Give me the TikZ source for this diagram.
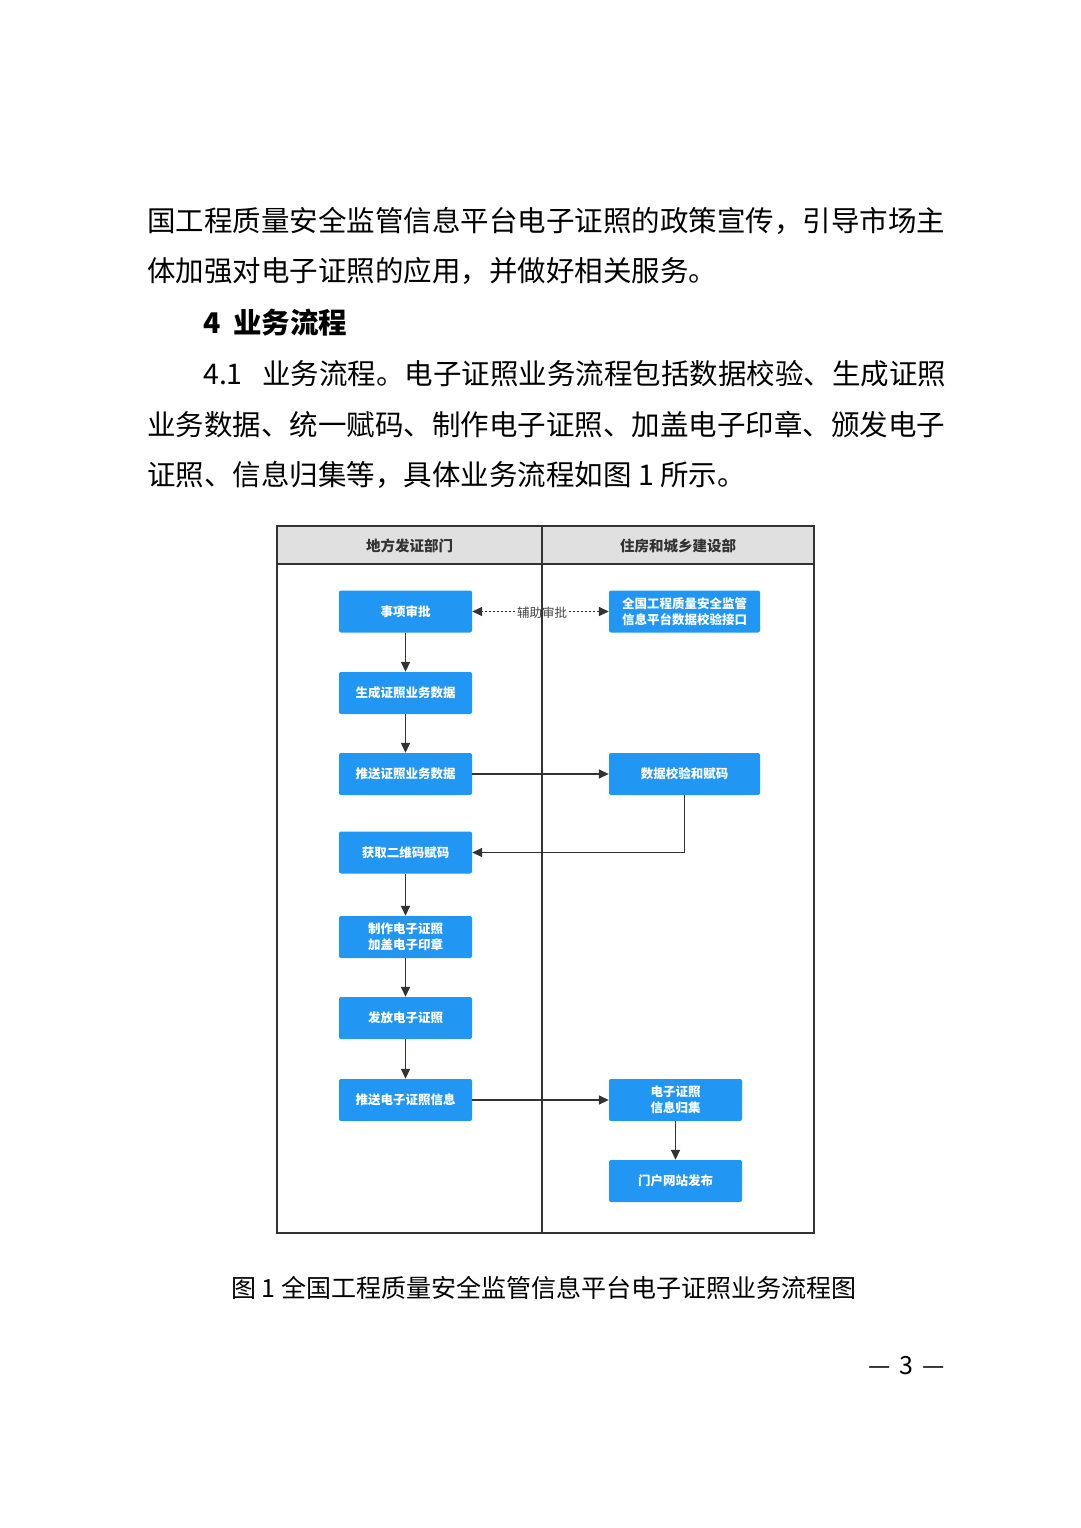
\documentclass[tikz,border=0pt]{standalone}
\usepackage{fontspec}
\setmainfont{Noto Sans CJK SC}
\usetikzlibrary{arrows.meta}
\definecolor{boxblue}{HTML}{2196F3}
\definecolor{linegray}{HTML}{333333}
\definecolor{headgray}{HTML}{E0E0E0}
\definecolor{labelgray}{HTML}{444444}
\begin{document}
\begin{tikzpicture}[x=1pt,y=-1pt,
  body/.style={anchor=base west, inner sep=0pt, font=\fontsize{28.5}{30}\selectfont, text=black},
  headtext/.style={inner sep=0pt, font=\fontsize{14.5}{16}\selectfont\bfseries, text=linegray},
  flow/.style={fill=boxblue, rounded corners=2pt, text=white, font=\fontsize{12.5}{15.5}\selectfont\bfseries, align=center, inner sep=0pt, minimum width=133pt, minimum height=42pt},
  widebox/.style={flow, minimum width=151pt},
  arr/.style={draw=linegray, line width=1.6pt, -{Triangle[length=10pt,width=9pt]}},
  dasharr/.style={draw=linegray, line width=1.5pt, dash pattern=on 2.5pt off 1.5pt, -{Triangle[length=10pt,width=9pt]}},
  lbl/.style={inner sep=1.5pt, font=\fontsize{12.5}{14}\selectfont, text=labelgray},
  frame/.style={draw=linegray, line width=1.8pt}
]
\useasboundingbox (0,0) rectangle (1080,1528);
\fill[white] (0,0) rectangle (1080,1528);

% body text
\node[body] (t1) at (147,231) {国工程质量安全监管信息平台电子证照的政策宣传，引导市场主};
\node[body] (t2) at (147,281) {体加强对电子证照的应用，并做好相关服务。};
\node[body, font=\fontsize{28.5}{30}\selectfont\bfseries] (t3) at (203,333) {\makebox[30pt][l]{4}业务流程};
\node[body] (t4) at (203,384) {\makebox[59pt][l]{4.1}业务流程。电子证照业务流程包括数据校验、生成证照};
\node[body] (t5) at (147,435) {业务数据、统一赋码、制作电子证照、加盖电子印章、颁发电子};
\node[body] (t6) at (147,485) {证照、信息归集等，具体业务流程如图 1 所示。};

% swimlane frame
\fill[headgray] (277,526) rectangle (814,564);
\draw[frame] (277,526) rectangle (814,1233);
\draw[frame] (277,564) -- (814,564);
\draw[frame] (542,526) -- (542,1233);
\node[headtext] (h1) at (409.5,546) {地方发证部门};
\node[headtext] (h2) at (678,546) {住房和城乡建设部};

% boxes
\node[flow] (a) at (405.5,611.5) {事项审批};
\node[widebox] (b) at (684.5,611.5) {全国工程质量安全监管\\信息平台数据校验接口};
\node[flow] (c) at (405.5,693) {生成证照业务数据};
\node[flow] (d) at (405.5,774) {推送证照业务数据};
\node[widebox] (e) at (684.5,774) {数据校验和赋码};
\node[flow] (f) at (405.5,852.5) {获取二维码赋码};
\node[flow] (g) at (405.5,937) {制作电子证照\\加盖电子印章};
\node[flow] (h) at (405.5,1018) {发放电子证照};
\node[flow] (i) at (405.5,1100) {推送电子证照信息};
\node[flow] (j) at (675.5,1100) {电子证照\\信息归集};
\node[flow] (k) at (675.5,1181) {门户网站发布};

% dashed auxiliary link
\node[lbl] (l) at (542,612.5) {辅助审批};
\draw[dasharr] (a.east -| l.west) -- (a.east);
\draw[dasharr] (b.west -| l.east) -- (b.west);

% connectors
\draw[arr] (a) -- (c);
\draw[arr] (c) -- (d);
\draw[arr] (d) -- (e);
\draw[arr] (e.south) |- (f.east);
\draw[arr] (f) -- (g);
\draw[arr] (g) -- (h);
\draw[arr] (h) -- (i);
\draw[arr] (i) -- (j);
\draw[arr] (j) -- (k);

% caption and page number
\node[body, font=\fontsize{25}{27}\selectfont] (cap) at (231,1297.5) {图 1 全国工程质量安全监管信息平台电子证照业务流程图};
\node[body, anchor=base east, font=\fontsize{25}{27}\selectfont] (pg) at (945,1374.5) {—\hspace{9pt}3\hspace{9pt}—};
\end{tikzpicture}
\end{document}
